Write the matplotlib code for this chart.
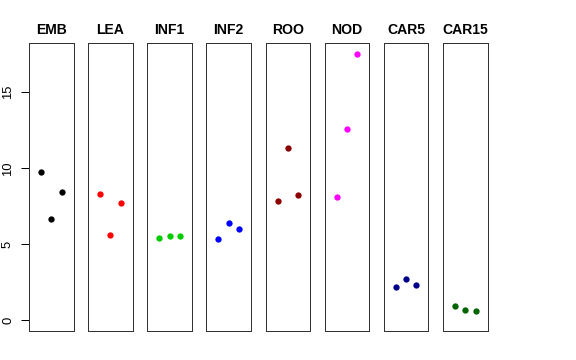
import matplotlib.pyplot as plt

plt.rcParams['font.family'] = ['Liberation Sans', 'DejaVu Sans']

tissues = ['EMB', 'LEA', 'INF1', 'INF2', 'ROO', 'NOD', 'CAR5', 'CAR15']
colors = ['black', 'red', '#00CD00', 'blue', '#8B0000', 'magenta', '#00008B', '#006400']
values = [
    [9.74, 6.64, 8.42],
    [8.31, 5.59, 7.74],
    [5.43, 5.55, 5.55],
    [5.37, 6.42, 6.03],
    [7.85, 11.31, 8.26],
    [8.13, 12.59, 17.54],
    [2.21, 2.74, 2.34],
    [0.94, 0.66, 0.63],
]
reps = [1, 2, 3]
yticks = [0, 5, 10, 15]

W, H = 576, 360
fig = plt.figure(figsize=(W / 72, H / 72), dpi=72)

ymax = max(max(v) for v in values)
ypad = 0.04 * ymax

for i, name in enumerate(tissues):
    left = 29 + i * 59.15
    ax = fig.add_axes([left / W, (H - 331) / H, 44.5 / W, 288 / H])
    ax.plot(reps, values[i], 'o', color=colors[i], markersize=6.3, markeredgewidth=0)
    ax.set_xlim(-0.16, 4.16)
    ax.set_ylim(-ypad, ymax + ypad)
    ax.set_title(name, fontsize=14, fontweight='bold', pad=8.5)
    ax.set_xticks([])
    for s in ax.spines.values():
        s.set_color('#333333')
        s.set_linewidth(1)
    if i == 0:
        ax.set_yticks(yticks)
        ax.tick_params(axis='y', length=8, width=1, pad=7, labelsize=13, labelrotation=90)
        for lab in ax.get_yticklabels():
            lab.set_va('center')
    else:
        ax.set_yticks([])

fig.savefig('out.png', dpi=72)
